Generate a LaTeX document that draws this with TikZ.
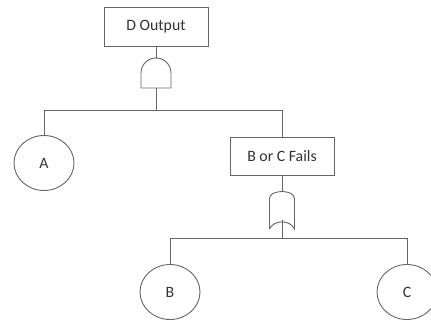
\documentclass[tikz,border=0pt]{standalone}
\usepackage{fontspec}
\setmainfont{Carlito}
\usetikzlibrary{shapes.geometric}
\definecolor{wire}{HTML}{666666}
\definecolor{ink}{HTML}{333333}
\tikzset{
  wirestyle/.style={draw=wire, line width=0.9pt},
  eventbox/.style={wirestyle, rectangle, minimum width=104pt, minimum height=39pt,
    inner sep=0pt, text=ink, font=\fontsize{15.8}{18}\selectfont},
  basicevent/.style={wirestyle, ellipse, minimum width=60pt, minimum height=55pt,
    inner sep=0pt, text=ink, font=\fontsize{15.8}{18}\selectfont},
  gatestyle/.style={wirestyle, fill=white}
}
\begin{document}
\begin{tikzpicture}[x=1pt, y=1pt]
  \useasboundingbox (0,0) rectangle (431,-321);

  % top event
  \node[eventbox] (out) at (156,-27) {D Output};

  % AND gate
  \coordinate (andtop) at (156,-58);
  \coordinate (andbot) at (156,-88);
  \draw[gatestyle] (141,-88) -- (141,-73) arc[start angle=180, end angle=0, radius=15]
    -- (171,-88) -- cycle;

  % first level
  \node[basicevent] (A) at (44,-163) {A};
  \node[eventbox, minimum height=38pt] (bc) at (282,-156) {B or C Fails};

  % OR gate
  \coordinate (ortop) at (282,-192);
  \coordinate (orbot) at (282,-220);
  \draw[gatestyle] (269.5,-229) -- (269.5,-199)
    .. controls (269.5,-194) and (274,-192) .. (282,-191.5)
    .. controls (290,-192) and (294.5,-194) .. (294.5,-199)
    -- (294.5,-229)
    .. controls (290,-219.5) and (274,-219.5) .. (269.5,-229);

  % second level
  \node[basicevent] (B) at (170,-292) {B};
  \node[basicevent] (C) at (407,-292) {C};

  % connectors
  \draw[wirestyle] (out.south) -- (andtop);
  \coordinate (j1) at (156,-110);
  \draw[wirestyle] (andbot) -- (j1);
  \draw[wirestyle] (A.north) -- (A.north |- j1) -| (bc.north);
  \draw[wirestyle] (bc.south) -- (ortop);
  \coordinate (j2) at (282,-238);
  \draw[wirestyle] (orbot) -- (j2);
  \draw[wirestyle] (B.north) -- (B.north |- j2) -| (C.north);
\end{tikzpicture}
\end{document}
